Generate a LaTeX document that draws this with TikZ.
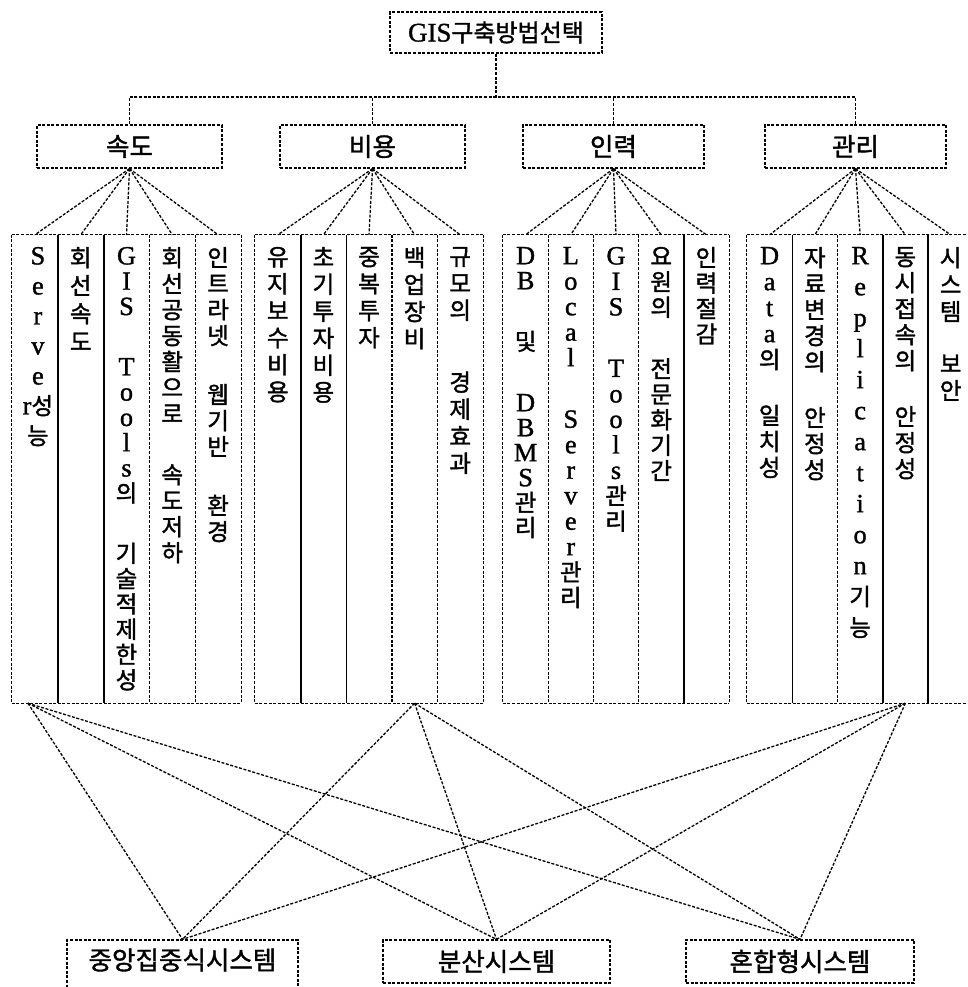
\documentclass[tikz,border=0pt]{standalone}
\usepackage{fontspec}
\setmainfont{Liberation Serif}[Scale=1.12, FakeBold=1.2]
\newfontfamily\kr{Noto Sans CJK KR}[FakeBold=1.5]
\XeTeXinterchartokenstate=1
\newXeTeXintercharclass\hgclass
\newcount\hgc
\hgc="AC00
\loop\ifnum\hgc<"D7A4 \XeTeXcharclass\hgc=\hgclass\relax\advance\hgc by 1 \repeat
\XeTeXinterchartoks 0 \hgclass = {\kr}
\XeTeXinterchartoks 4095 \hgclass = {\kr}
\XeTeXinterchartoks \hgclass 0 = {\rmfamily}
\XeTeXinterchartoks 4095 0 = {\rmfamily}
\begin{document}
\begin{tikzpicture}[x=1pt,y=-1pt,
  dl/.style={dash pattern=on 3pt off 1.6pt, line width=1.3pt},
  sl/.style={line width=1.7pt},
  lbox/.style={draw, dl, rectangle, inner sep=0pt, font=\fontsize{25.5}{25.5}\selectfont},
  cell/.style={rectangle, inner sep=0pt, minimum height=468pt},
  ctext/.style={anchor=north, inner sep=0pt, align=center, font=\fontsize{23.5}{#1}\selectfont},
]
\useasboundingbox (0,0) rectangle (968,987);

% top and level-2 boxes
\node[lbox, minimum width=212pt, minimum height=41pt, font=\fontsize{24}{24}\selectfont] (top) at (496,32.5) {GIS구축방법선택};
\coordinate (hub) at (496,97);
\node[lbox, minimum width=185pt, minimum height=43pt] (sd) at (129.5,146.5) {속도};
\node[lbox, minimum width=185pt, minimum height=43pt] (by) at (372.5,146.5) {비용};
\node[lbox, minimum width=181pt, minimum height=43pt] (ir) at (613.5,146.5) {인력};
\node[lbox, minimum width=181pt, minimum height=43pt] (gr) at (855.5,146.5) {관리};
\draw[dl] (top.south) -- (hub);
\draw[dl] (sd.north) |- (hub) -| (gr.north);
\draw[dl] (by.north) -- (by.north |- hub);
\draw[dl] (ir.north) -- (ir.north |- hub);

% column cells
\foreach \g/\xo/\w in {1/12/45.8, 2/255/45.6, 3/503/45.2, 4/747/45.25}{
  \foreach \j in {1,...,5}{
    \node[cell, minimum width=\w pt] (c\g\j) at ({\xo+(\j-0.5)*\w}, 469) {};
  }
}
\foreach \n in {c11,c12,c21,c22,c34,c41,c43,c44} \draw[sl] (\n.north east) -- (\n.south east);
\foreach \n in {c13,c14,c15,c23,c24,c25,c31,c32,c33,c35,c42} \draw[dl] (\n.north east) -- (\n.south east);
\foreach \n in {c11,c21,c31,c41} \draw[dl] (\n.north west) -- (\n.south west);
\foreach \g in {1,2,3,4}{
  \draw[dl] (c\g1.north west) -- (c\g5.north east);
  \draw[dl] (c\g1.south west) -- (c\g5.south east);
}
\foreach \g/\p in {1/sd,2/by,3/ir,4/gr}
  \foreach \j in {1,...,5} \draw[dl] (\p.south) -- (c\g\j.north);

% column texts
\node[ctext=30] (t11) at ([xshift=3pt,yshift=-12pt]c11.north) {S\\e\\r\\v\\e\\r성\\능};
\node[ctext=28] (t12) at ([yshift=-12pt]c12.north) {회\\선\\속\\도};
\node[ctext=25.3] (t13) at ([yshift=-12pt]c13.north) {G\\I\\S\\[35pt]T\\o\\o\\l\\s\\의\\[35pt]기\\술\\적\\제\\한\\성};
\node[ctext=26] (t14) at ([yshift=-12pt]c14.north) {회\\선\\공\\동\\활\\으\\로\\[35pt]속\\도\\저\\하};
\node[ctext=26] (t15) at ([yshift=-12pt]c15.north) {인\\트\\라\\넷\\[33pt]웹\\기\\반\\[33pt]환\\경};

\node[ctext=27] (t21) at ([yshift=-12pt]c21.north) {유\\지\\보\\수\\비\\용};
\node[ctext=27] (t22) at ([yshift=-12pt]c22.north) {초\\기\\투\\자\\비\\용};
\node[ctext=27] (t23) at ([yshift=-12pt]c23.north) {중\\복\\투\\자};
\node[ctext=27] (t24) at ([yshift=-12pt]c24.north) {백\\업\\장\\비};
\node[ctext=27] (t25) at ([yshift=-12pt]c25.north) {규\\모\\의\\[45pt]경\\제\\효\\과};

\node[ctext=25] (t31) at ([yshift=-12pt]c31.north) {D\\B\\[36pt]및\\[36pt]D\\B\\M\\S\\관\\리};
\node[ctext=25.5] (t32) at ([yshift=-12pt]c32.north) {L\\o\\c\\a\\l\\[36pt]S\\e\\r\\v\\e\\r\\관\\리};
\node[ctext=25.5] (t33) at ([yshift=-12pt]c33.north) {G\\I\\S\\[36pt]T\\o\\o\\l\\s\\관\\리};
\node[ctext=25.5] (t34) at ([yshift=-12pt]c34.north) {요\\원\\의\\[36pt]전\\문\\화\\기\\간};
\node[ctext=25.5] (t35) at ([yshift=-12pt]c35.north) {인\\력\\절\\감};

\node[ctext=26] (t41) at ([yshift=-12pt]c41.north) {D\\a\\t\\a\\의\\[30pt]일\\치\\성};
\node[ctext=26] (t42) at ([yshift=-12pt]c42.north) {자\\료\\변\\경\\의\\[30pt]안\\정\\성};
\node[ctext=31] (t43) at ([yshift=-12pt]c43.north) {R\\e\\p\\l\\i\\c\\a\\t\\i\\o\\n\\기\\능};
\node[ctext=26] (t44) at ([yshift=-12pt]c44.north) {동\\시\\접\\속\\의\\[30pt]안\\정\\성};
\node[ctext=27] (t45) at ([yshift=-12pt]c45.north) {시\\스\\템\\[25pt]보\\안};

% bottom boxes
\node[lbox, minimum width=231pt, minimum height=50pt] (cz) at (182.5,965) {\raisebox{5pt}[\height][\depth]{중앙집중식시스템}};
\node[lbox, minimum width=227pt, minimum height=43pt] (bs) at (496.5,961.5) {분산시스템};
\node[lbox, minimum width=228pt, minimum height=43pt] (hh) at (800,961.5) {혼합형시스템};

\coordinate (s1) at ([xshift=-7pt]c11.south);
\coordinate (s2) at (c24.south);
\coordinate (s3) at (c44.south);
\foreach \s in {s1,s2,s3}
  \foreach \t in {cz,bs,hh} \draw[dl] (\s) -- (\t.north);
\end{tikzpicture}
\end{document}
